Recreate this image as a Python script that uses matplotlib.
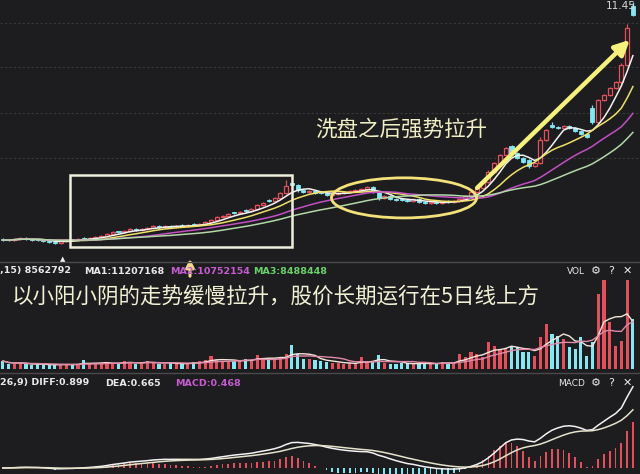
import numpy as np
import pandas as pd
import matplotlib
matplotlib.use('Agg')
import matplotlib.pyplot as plt
from matplotlib.patches import Rectangle, Ellipse

# ---------------- data ----------------
closes = [3.71, 3.71, 3.75, 3.78, 3.75, 3.71, 3.71, 3.68, 3.65, 3.62,
          3.68, 3.71, 3.71, 3.75, 3.75, 3.78, 3.81, 3.84, 3.91, 3.97,
          3.97, 4.01, 4.07, 4.04, 4.07, 4.10, 4.17, 4.14, 4.17, 4.14,
          4.17, 4.17, 4.20, 4.20, 4.23, 4.30, 4.36, 4.46, 4.49, 4.56,
          4.59, 4.62, 4.66, 4.72, 4.85, 4.91, 4.98, 5.08, 5.24, 5.47,
          5.50, 5.34, 5.27, 5.30, 5.24, 5.24, 5.17, 5.21, 5.24, 5.27,
          5.30, 5.34, 5.37, 5.43, 5.27, 5.08, 5.14, 5.04, 5.01, 5.01,
          4.98, 5.04, 4.95, 4.91, 4.95, 4.91, 4.95, 4.95, 4.98, 5.04,
          5.14, 5.27, 5.40, 5.60, 5.92, 6.21, 6.47, 6.70, 6.54, 6.37,
          6.24, 6.11, 6.21, 6.96, 7.28, 7.38, 7.35, 7.41, 7.35, 7.25,
          7.15, 7.06, 7.55, 8.26, 8.42, 8.65, 8.84, 9.39, 10.59, 11.00]

opens = [3.75, 3.73, 3.71, 3.75, 3.78, 3.75, 3.72, 3.71, 3.68, 3.65,
         3.62, 3.68, 3.73, 3.71, 3.77, 3.75, 3.78, 3.81, 3.84, 3.91,
         3.99, 3.97, 4.01, 4.07, 4.04, 4.07, 4.10, 4.17, 4.14, 4.18,
         4.14, 4.19, 4.17, 4.22, 4.20, 4.23, 4.30, 4.36, 4.46, 4.49,
         4.60, 4.59, 4.68, 4.66, 4.72, 4.85, 5.02, 4.98, 5.08, 5.24,
         5.55, 5.50, 5.34, 5.27, 5.30, 5.26, 5.24, 5.17, 5.21, 5.24,
         5.27, 5.30, 5.34, 5.37, 5.43, 5.27, 5.08, 5.14, 5.04, 5.03,
         5.01, 4.98, 5.04, 4.95, 4.91, 4.95, 4.91, 4.97, 4.95, 4.98,
         5.04, 5.14, 5.27, 5.40, 5.60, 5.92, 6.21, 6.47, 6.75, 6.54,
         6.37, 6.30, 6.11, 6.21, 6.96, 7.45, 7.38, 7.35, 7.41, 7.35,
         7.25, 7.15, 8.00, 7.55, 8.26, 8.42, 8.65, 8.84, 9.39, 11.30]

volumes = [8, 5, 5, 6, 5, 4, 5, 4, 4, 4,
           5, 5, 4, 5, 9, 5, 6, 5, 7, 6,
           5, 8, 7, 5, 6, 8, 7, 5, 5, 6,
           5, 6, 5, 7, 8, 9, 13, 9, 8, 7,
           8, 9, 10, 9, 14, 10, 11, 10, 12, 15,
           24, 15, 10, 10, 9, 8, 7, 6, 6, 5,
           6, 5, 12, 7, 8, 14, 6, 5, 5, 6,
           6, 5, 5, 6, 5, 6, 7, 6, 6, 15,
           12, 17, 15, 12, 27, 23, 20, 21, 23, 22,
           17, 17, 13, 32, 45, 35, 33, 30, 22, 20,
           32, 13, 27, 75, 89, 47, 23, 28, 89, 50]

upper_wick = {49: 0.18, 84: 0.06, 93: 0.10, 95: 0.08, 102: 0.10, 107: 0.08, 108: 0.12, 109: 0.15}
lower_wick = {51: 0.06, 65: 0.08, 88: 0.06, 91: 0.06, 102: 0.08}

price_ma_windows = [5, 10, 20, 30]
vol_ma_windows = [5, 10]

vol_header = [(",15) 8562792", 0, '#e8e8e8'), ("MA1:11207168", 84, '#e8e8e8'),
              ("MA2:10752154", 170, '#c65cd0'), ("MA3:8488448", 253, '#6ad06a')]
macd_header = [("26,9) DIFF:0.899", 0, '#e8e8e8'), ("DEA:0.665", 105, '#e8e8e8'),
               ("MACD:0.468", 175, '#c65cd0')]

# ---------------- style ----------------
BG = '#1d1d1f'
RED = '#e2505c'
CYAN = '#86e6f2'
W, H = 640, 474

fig = plt.figure(figsize=(6.4, 4.74), dpi=100, facecolor=BG)

def fy(y):
    return 1 - y / H

ax = fig.add_axes([0, fy(262), 1, 262 / H], facecolor=BG)
axv = fig.add_axes([0, fy(371), 1, 109 / H], facecolor=BG)
axm = fig.add_axes([0, 0, 1, fy(373)], facecolor=BG)
for a in (ax, axv, axm):
    a.set_xlim(-0.5, 110.23)
    a.set_axis_off()

n = len(closes)
x = np.arange(n)
o = np.array(opens)
c = np.array(closes)
up = c >= o
hi = np.maximum(o, c) + np.array([upper_wick.get(i, 0.03) for i in x])
lo = np.minimum(o, c) - np.array([lower_wick.get(i, 0.03) for i in x])
cols = np.where(up, RED, CYAN)

# price panel grid
ax.set_ylim(3.0, 11.5)
for gy in [10.75, 9.33, 7.83, 6.37]:
    ax.axhline(gy, color='#3a3a3c', lw=0.8, ls=(0, (2, 2)), zorder=0)

ax.vlines(x, lo, hi, colors=cols, lw=0.9, zorder=2)
bh = np.maximum(np.abs(c - o), 0.02)
bb = np.minimum(o, c)
ax.bar(x[up], bh[up], bottom=bb[up], width=0.7, facecolor=BG, edgecolor=RED, lw=0.9, zorder=2)
ax.bar(x[~up], bh[~up], bottom=bb[~up], width=0.7, facecolor=CYAN, edgecolor=CYAN, lw=0.6, zorder=2)

s = pd.Series(c)
ma_cols = ['#f2f2f2', '#f0e066', '#c24fc4', '#b2d8a8']
for w, col in zip(price_ma_windows, ma_cols):
    ax.plot(x, s.rolling(w, min_periods=1).mean(), color=col, lw=1.1, zorder=3)

# annotations on price panel
ax.add_patch(Rectangle((11.6, 3.49), 50.0 - 11.6, 5.82 - 3.49, fill=False,
                       edgecolor='#eeeedc', lw=1.8, zorder=4))
ax.add_patch(Ellipse((69.4, 5.08), 25.1, 1.30, fill=False,
                     edgecolor='#f3e27a', lw=2.0, zorder=4))
ax.annotate('', xy=(108.8, 10.27), xytext=(81.7, 5.34),
            arrowprops=dict(arrowstyle='-|>', color='#f6f07c', lw=3.2, mutation_scale=22),
            zorder=5)

fig.text(315 / W, fy(130), '洗盘之后强势拉升', color='#f0eec4', fontsize=15.5,
         family=['Noto Sans CJK SC', 'DejaVu Sans'], va='center', ha='left')
fig.text(606 / W, fy(6), '11.45', color='#d8d8d8', fontsize=7.5, va='center', ha='left')

# separators
fig.add_artist(plt.Line2D([0, 1], [fy(262), fy(262)], color='#4a4a4c', lw=1))
fig.add_artist(plt.Line2D([0, 1], [fy(373), fy(373)], color='#4a4a4c', lw=1))

# volume panel
axv.set_ylim(-2, 107)
v = np.array(volumes)
axv.bar(x, v, width=0.55, color=cols, zorder=2)
vs = pd.Series(v, dtype=float)
for w, col in zip(vol_ma_windows, ['#f2e6d8', '#e288a8']):
    axv.plot(x, vs.rolling(w, min_periods=1).mean(), color=col, lw=1.0, zorder=3)

for txt, px, col in vol_header:
    fig.text(px / W, fy(271), txt, color=col, fontsize=6.8, va='center', ha='left',
             family='DejaVu Sans', fontweight='bold')
for txt, px, col in macd_header:
    fig.text(px / W, fy(383), txt, color=col, fontsize=6.8, va='center', ha='left',
             family='DejaVu Sans', fontweight='bold')
for yy, lab in [(271, 'VOL'), (383, 'MACD')]:
    fig.text(585 / W, fy(yy), lab, color='#e8e8e8', fontsize=6.5, va='center', ha='right',
             family='DejaVu Sans')
    fig.text(596 / W, fy(yy), '⚙', color='#e8e8e8', fontsize=8, va='center', ha='center',
             family='DejaVu Sans')
    fig.text(611 / W, fy(yy), '?', color='#e8e8e8', fontsize=8, va='center', ha='center',
             family='DejaVu Sans')
    fig.text(627 / W, fy(yy), '✕', color='#e8e8e8', fontsize=8, va='center', ha='center',
             family='DejaVu Sans')

fig.text(12 / W, fy(297), '以小阳小阴的走势缓慢拉升，股价长期运行在5日线上方', color='#f2f0d4',
         fontsize=15.5, family=['Noto Sans CJK SC', 'DejaVu Sans'], va='center', ha='left')

# small markers
fig.text(63 / W, fy(259), '▲', color='#f0f0f0', fontsize=5, va='center', ha='center',
         family='DejaVu Sans')
ax_arrow = fig.add_axes([0, 0, 1, 1], facecolor='none')
ax_arrow.set_axis_off()
ax_arrow.set_xlim(0, W)
ax_arrow.set_ylim(H, 0)
ax_arrow.annotate('', xy=(190, 256), xytext=(190, 279),
                  arrowprops=dict(arrowstyle='-|>', color='#f2d98c', lw=2.2, mutation_scale=12))

# MACD panel
ema12 = s.ewm(span=12, adjust=False).mean()
ema26 = s.ewm(span=26, adjust=False).mean()
diff = ema12 - ema26
dea = diff.ewm(span=9, adjust=False).mean()
macd = 2 * (diff - dea)
axm.set_ylim(-0.08, 1.25)
axm.bar(x, macd, width=0.3, color=np.where(macd >= 0, RED, CYAN), zorder=2)
axm.plot(x, diff, color='#f2f2f2', lw=1.1, zorder=3)
axm.plot(x, dea, color='#e4e2c8', lw=1.1, zorder=3)

fig.savefig('out.png', dpi=100, facecolor=BG)
